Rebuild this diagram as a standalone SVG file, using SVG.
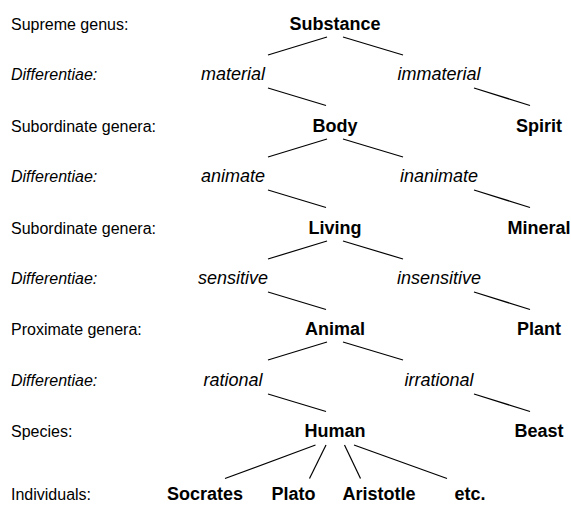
<svg xmlns="http://www.w3.org/2000/svg" width="571" height="506" viewBox="0 0 571 506">
<style>
text{font-family:"Liberation Sans",Arial,sans-serif;fill:#000}
.lab{font-size:16px}
.labi{font-size:16px;font-style:italic}
.n{font-size:18px;font-weight:bold;text-anchor:middle}
.d{font-size:18px;font-style:italic;text-anchor:middle}
line{stroke:#000;stroke-width:1.2}
</style>
<rect width="571" height="506" fill="#fff"/>
<g id="row-labels">
<text class="lab" x="11" y="30">Supreme genus:</text>
<text class="labi" x="11" y="80">Differentiae:</text>
<text class="lab" x="11" y="132">Subordinate genera:</text>
<text class="labi" x="11" y="182">Differentiae:</text>
<text class="lab" x="11" y="234">Subordinate genera:</text>
<text class="labi" x="11" y="284">Differentiae:</text>
<text class="lab" x="11" y="335">Proximate genera:</text>
<text class="labi" x="11" y="386">Differentiae:</text>
<text class="lab" x="11" y="437">Species:</text>
<text class="lab" x="11" y="500">Individuals:</text>
</g>
<g id="connectors">
<line x1="327" y1="37" x2="268" y2="55"/>
<line x1="343" y1="37" x2="403" y2="55"/>
<line x1="268" y1="88" x2="326" y2="105.5"/>
<line x1="474" y1="88" x2="530" y2="105.5"/>
<line x1="327" y1="139" x2="268" y2="157"/>
<line x1="343" y1="139" x2="403" y2="157"/>
<line x1="268" y1="190" x2="326" y2="207.5"/>
<line x1="474" y1="190" x2="530" y2="207.5"/>
<line x1="327" y1="241" x2="268" y2="259"/>
<line x1="343" y1="241" x2="403" y2="259"/>
<line x1="268" y1="292" x2="326" y2="309.5"/>
<line x1="474" y1="292" x2="530" y2="309.5"/>
<line x1="327" y1="342" x2="268" y2="360"/>
<line x1="343" y1="342" x2="403" y2="360"/>
<line x1="268" y1="394" x2="326" y2="411.5"/>
<line x1="474" y1="394" x2="530" y2="411.5"/>
<line x1="315.5" y1="445" x2="225" y2="478.5"/>
<line x1="326" y1="445" x2="309.5" y2="478.5"/>
<line x1="344.5" y1="445" x2="360.5" y2="478.5"/>
<line x1="354" y1="445" x2="447" y2="478.5"/>
</g>
<g id="substance"><text class="n" x="335" y="30">Substance</text></g>
<g id="material"><text class="d" x="233" y="80">material</text></g>
<g id="immaterial"><text class="d" x="439" y="80">immaterial</text></g>
<g id="body"><text class="n" x="335" y="132">Body</text></g>
<g id="spirit"><text class="n" x="539" y="132">Spirit</text></g>
<g id="animate"><text class="d" x="233" y="182">animate</text></g>
<g id="inanimate"><text class="d" x="439" y="182">inanimate</text></g>
<g id="living"><text class="n" x="335" y="234">Living</text></g>
<g id="mineral"><text class="n" x="539" y="234">Mineral</text></g>
<g id="sensitive"><text class="d" x="233" y="284">sensitive</text></g>
<g id="insensitive"><text class="d" x="439" y="284">insensitive</text></g>
<g id="animal"><text class="n" x="335" y="335">Animal</text></g>
<g id="plant"><text class="n" x="539" y="335">Plant</text></g>
<g id="rational"><text class="d" x="233" y="386">rational</text></g>
<g id="irrational"><text class="d" x="439" y="386">irrational</text></g>
<g id="human"><text class="n" x="335" y="437">Human</text></g>
<g id="beast"><text class="n" x="539" y="437">Beast</text></g>
<g id="socrates"><text class="n" x="205" y="500">Socrates</text></g>
<g id="plato"><text class="n" x="293.5" y="500">Plato</text></g>
<g id="aristotle"><text class="n" x="379" y="500">Aristotle</text></g>
<g id="etc"><text class="n" x="470" y="500">etc.</text></g>
</svg>
